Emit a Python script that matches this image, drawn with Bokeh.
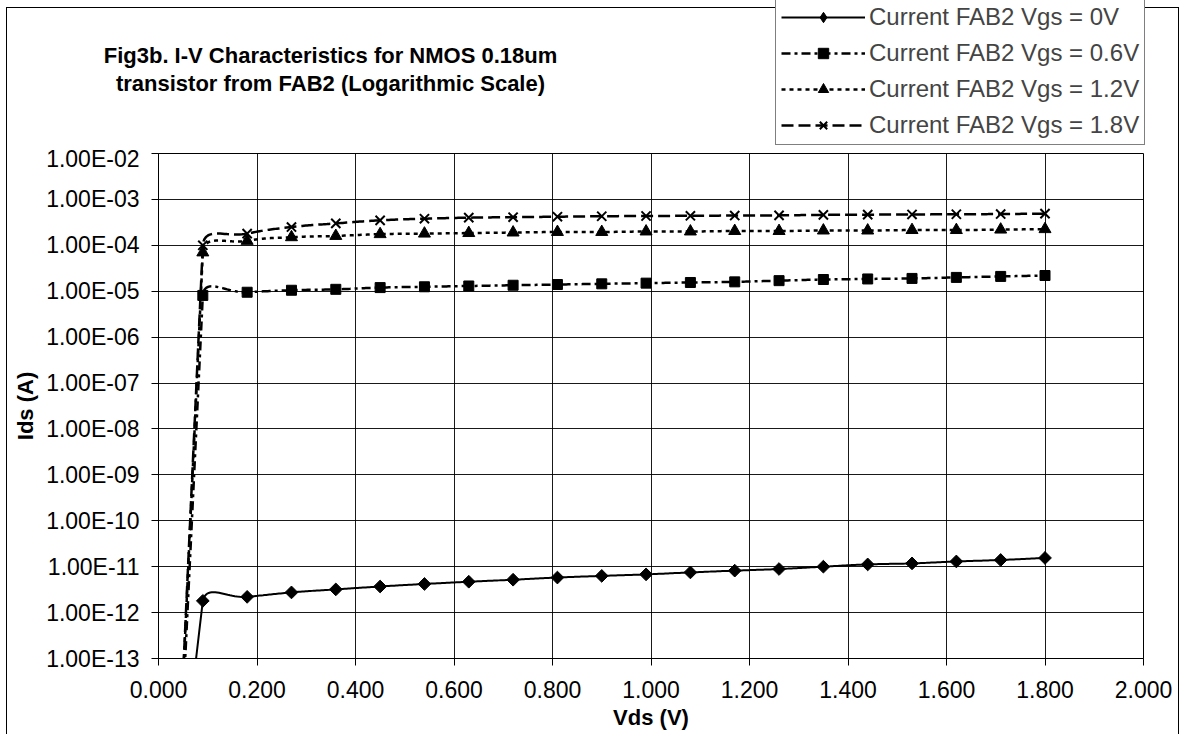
import math
from bokeh.plotting import figure
from bokeh.layouts import column, row
from bokeh.models import (Range1d, FixedTicker, CustomJSTickFormatter, PrintfTickFormatter,
                          Legend, LegendItem, Label)
from bokeh.embed import file_html
from bokeh.resources import INLINE

# ---------------- data ----------------
vds = [0.0, 0.09, 0.18, 0.27, 0.36, 0.45, 0.54, 0.63, 0.72, 0.81, 0.90,
       0.99, 1.08, 1.17, 1.26, 1.35, 1.44, 1.53, 1.62, 1.71, 1.80]
ids_vgs_0 = [1e-20, 1.8e-12, 2.2e-12, 2.75e-12, 3.2e-12, 3.7e-12, 4.2e-12, 4.7e-12, 5.2e-12,
             5.8e-12, 6.3e-12, 6.8e-12, 7.5e-12, 8.2e-12, 8.9e-12, 1.0e-11, 1.12e-11,
             1.18e-11, 1.3e-11, 1.4e-11, 1.55e-11]
ids_vgs_06 = [1e-25, 8.1e-6, 9.5e-6, 1.05e-5, 1.1e-5, 1.2e-5, 1.25e-5, 1.3e-5, 1.35e-5,
              1.4e-5, 1.45e-5, 1.5e-5, 1.55e-5, 1.6e-5, 1.7e-5, 1.8e-5, 1.85e-5, 1.9e-5,
              2.0e-5, 2.1e-5, 2.2e-5]
ids_vgs_12 = [1e-25, 7e-5, 1.25e-4, 1.5e-4, 1.6e-4, 1.75e-4, 1.8e-4, 1.85e-4, 1.9e-4,
              1.95e-4, 1.95e-4, 2.0e-4, 2.0e-4, 2.05e-4, 2.05e-4, 2.1e-4, 2.1e-4, 2.15e-4,
              2.15e-4, 2.2e-4, 2.25e-4]
ids_vgs_18 = [1e-25, 1.0e-4, 1.8e-4, 2.5e-4, 3.0e-4, 3.5e-4, 3.8e-4, 4.0e-4, 4.1e-4,
              4.2e-4, 4.3e-4, 4.35e-4, 4.4e-4, 4.45e-4, 4.5e-4, 4.6e-4, 4.65e-4, 4.7e-4,
              4.75e-4, 4.8e-4, 4.9e-4]
series_labels = ["Current FAB2 Vgs = 0V", "Current FAB2 Vgs = 0.6V",
                 "Current FAB2 Vgs = 1.2V", "Current FAB2 Vgs = 1.8V"]
x_ticks = [0.0, 0.2, 0.4, 0.6, 0.8, 1.0, 1.2, 1.4, 1.6, 1.8, 2.0]
y_ticks = [1e-2, 1e-3, 1e-4, 1e-5, 1e-6, 1e-7, 1e-8, 1e-9, 1e-10, 1e-11, 1e-12, 1e-13]
title_lines = ["Fig3b. I-V Characteristics for NMOS 0.18um",
               "transistor from FAB2 (Logarithmic Scale)"]

FONT = "Liberation Sans"
W, H = 1180, 734
TOP_H = 145
TITLE_W = 775
PX_X, PX_Y = 492.5, 45.9   # approx screen px per x unit / per decade (smoothing shape only)


def smooth(xs, ys, k=0.45, n=24):
    """Excel-like smoothed line through the data points (rendering only).
    The first segment (from the off-scale Vds = 0 point) is kept straight."""
    P = [(x * PX_X, math.log10(y) * PX_Y) for x, y in zip(xs, ys)]

    def d(a, b):
        return math.hypot(b[0] - a[0], b[1] - a[1])
    ox, oy = [], []
    m = len(P)
    for i in range(m - 1):
        p1, p2 = P[i], P[i + 1]
        L12 = d(p1, p2)
        if i > 0:
            p0 = P[i - 1]
            w = L12 / (d(p0, p1) + L12)
            c1 = (p1[0] + (p2[0] - p0[0]) * w * k, p1[1] + (p2[1] - p0[1]) * w * k)
        else:
            c1 = (p1[0] + (p2[0] - p1[0]) / 3, p1[1] + (p2[1] - p1[1]) / 3)
        if 0 < i and i + 2 < m:
            p3 = P[i + 2]
            w = L12 / (L12 + d(p2, p3))
            c2 = (p2[0] - (p3[0] - p1[0]) * w * k, p2[1] - (p3[1] - p1[1]) * w * k)
        else:
            c2 = (p2[0] - (p2[0] - p1[0]) / 3, p2[1] - (p2[1] - p1[1]) / 3)
        for j in range(n + (1 if i == m - 2 else 0)):
            t = j / n
            a, b, c, e = (1 - t) ** 3, 3 * (1 - t) ** 2 * t, 3 * (1 - t) * t ** 2, t ** 3
            X = a * p1[0] + b * c1[0] + c * c2[0] + e * p2[0]
            Y = a * p1[1] + b * c1[1] + c * c2[1] + e * p2[1]
            ox.append(X / PX_X)
            oy.append(10 ** (Y / PX_Y))
    return ox, oy


styles = [
    dict(data=ids_vgs_0, dash="solid", lw=2, marker="square", lmarker="diamond", size=9,
         lsize=15, angle=math.pi / 4),
    dict(data=ids_vgs_06, dash="9 4 3 4", lw=2.5, marker="square", lmarker="square", size=10,
         lsize=10, angle=0),
    dict(data=ids_vgs_12, dash="4 4", lw=2.5, marker="triangle", lmarker="triangle", size=12,
         lsize=12, angle=0),
    dict(data=ids_vgs_18, dash="12 5", lw=2.5, marker="x", lmarker="x", size=13,
         lsize=13, angle=0),
]


def blank(width, height):
    f = figure(width=width, height=height, x_range=Range1d(0, width), y_range=Range1d(0, height),
               x_axis_location=None, y_axis_location=None, output_backend="svg",
               toolbar_location=None, min_border=0, outline_line_color=None,
               background_fill_color=None, border_fill_color=None)
    f.xgrid.visible = False
    f.ygrid.visible = False
    return f


# ---------------- title strip ----------------
tf = blank(TITLE_W, TOP_H)
for i, t in enumerate(title_lines):
    tf.add_layout(Label(x=330, y=(TOP_H - 55) - 28 * i, text=t,
                        text_align="center", text_baseline="middle", text_font=FONT,
                        text_font_size="22px", text_font_style="bold", text_color="black"))

# ---------------- legend strip ----------------
lf = blank(W - TITLE_W, TOP_H)
# the series are drawn here on ranges that keep them out of view; they only feed the legend
lf.extra_x_ranges = {"hidden_x": Range1d(10, 20)}
lf.extra_y_ranges = {"hidden_y": Range1d(10, 20)}
items = []
for lab, st in zip(series_labels, styles):
    lr = lf.line(vds[1:], st["data"][1:], line_color="black", line_width=st["lw"],
                 line_dash=st["dash"], x_range_name="hidden_x", y_range_name="hidden_y")
    mr = lf.scatter(vds[1:], st["data"][1:], marker=st["lmarker"], size=st["lsize"],
                    fill_color="black", line_color="black",
                    line_width=2 if st["marker"] == "x" else 1,
                    x_range_name="hidden_x", y_range_name="hidden_y")
    items.append(LegendItem(label=lab, renderers=[lr, mr]))

legend = Legend(items=items, location=(0, 0), margin=0, padding=5, spacing=8,
                glyph_width=84, glyph_height=26, label_height=26, label_standoff=4,
                label_text_font=FONT, label_text_font_size="24px",
                border_line_color="black", border_line_width=1,
                background_fill_color="white", background_fill_alpha=1)
lf.add_layout(legend)

# ---------------- main plot ----------------
p = figure(width=W, height=H - TOP_H, x_range=Range1d(0, 2), y_range=Range1d(1e-13, 1e-2),
           y_axis_type="log", output_backend="svg", toolbar_location=None,
           min_border_left=158, min_border_right=W - 1143, min_border_top=153 - TOP_H,
           min_border_bottom=76,
           background_fill_color="white", border_fill_color=None)

p.outline_line_color = "black"
p.outline_line_width = 1
p.grid.grid_line_color = "black"
p.grid.grid_line_width = 1
p.grid.grid_line_alpha = 0.9

p.xaxis.ticker = FixedTicker(ticks=x_ticks)
p.xaxis.formatter = PrintfTickFormatter(format="%.3f")
p.yaxis.ticker = FixedTicker(ticks=y_ticks)
p.yaxis.formatter = CustomJSTickFormatter(code="""
const e = Math.round(Math.log10(tick));
const a = Math.abs(e);
return "1.00E" + (e < 0 ? "-" : "+") + (a < 10 ? "0" + a : "" + a);
""")
for ax in (p.xaxis, p.yaxis):
    ax.axis_line_color = "black"
    ax.major_tick_line_color = "black"
    ax.major_tick_out = 7
    ax.major_tick_in = 0
    ax.minor_tick_line_color = None
    ax.major_label_text_font = FONT
    ax.major_label_text_font_size = "23px"
    ax.major_label_text_color = "black"
    ax.axis_label_text_font = FONT
    ax.axis_label_text_font_size = "22px"
    ax.axis_label_text_font_style = "bold"
    ax.axis_label_text_color = "black"
p.xaxis.axis_label = "Vds (V)"
p.yaxis.axis_label = "Ids (A)"
p.xaxis.major_label_standoff = 15
p.yaxis.major_label_standoff = 12
p.xaxis.axis_label_standoff = 4
p.yaxis.axis_label_standoff = 5

for st in styles:
    sx, sy = smooth(vds, st["data"])
    p.line(sx, sy, line_color="black", line_width=st["lw"], line_dash=st["dash"])
    p.scatter(vds[1:], st["data"][1:], marker=st["marker"], size=st["size"],
              angle=st["angle"], fill_color="black", line_color="black",
              line_width=2 if st["marker"] == "x" else 1)

# thin chart-area border (left, top, right) painted behind the transparent canvas borders
chart_border = ("linear-gradient(#000, #000) 6px 7px / 1px 100% no-repeat, "
                "linear-gradient(#000, #000) 6px 7px / 1173px 1px no-repeat, "
                "linear-gradient(#000, #000) 1178px 7px / 1px 100% no-repeat, #fff")
layout = column(row(tf, lf, spacing=0), p, spacing=0, styles={"background": chart_border})

open("out.html", "w").write(file_html(layout, INLINE))
